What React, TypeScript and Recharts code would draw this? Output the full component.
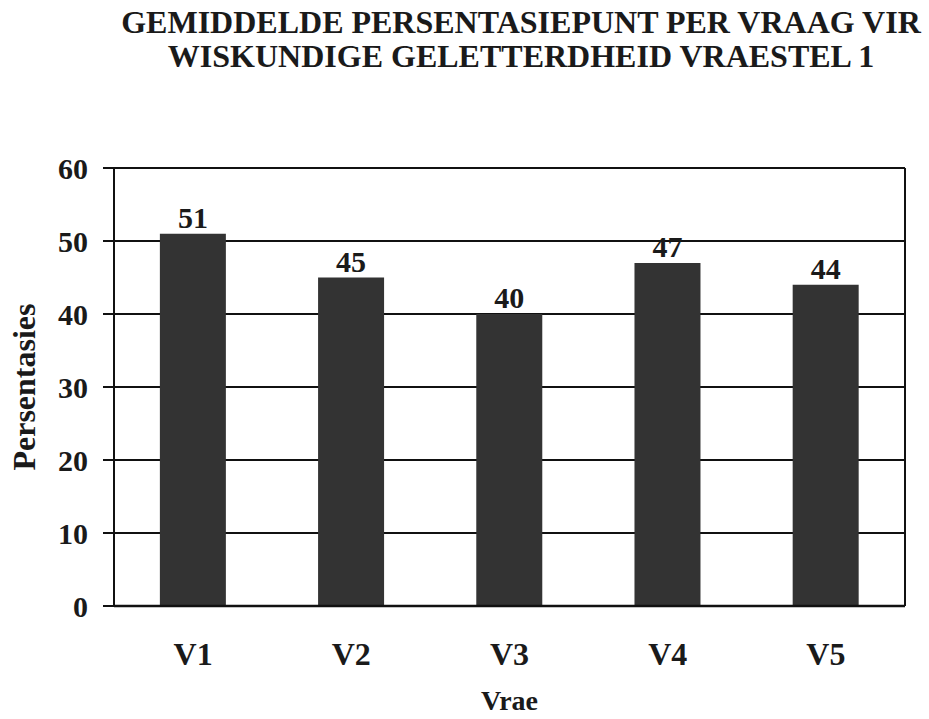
import React from "react";
import { BarChart, Bar, XAxis, YAxis, CartesianGrid, LabelList, Label } from "recharts";

const categories = ["V1", "V2", "V3", "V4", "V5"];
const values = [51, 45, 40, 47, 44];
const yTicks = [0, 10, 20, 30, 40, 50, 60];
const titleLines = ["GEMIDDELDE PERSENTASIEPUNT PER VRAAG VIR", "WISKUNDIGE GELETTERDHEID VRAESTEL 1"];
const yLabel = "Persentasies";
const xLabel = "Vrae";

const data = categories.map((c, i) => ({ name: c, value: values[i] }));

const FONT = "'Liberation Serif', 'Times New Roman', serif";

export default function App() {
  return (
    <div style={{ position: "absolute", left: 0, top: 0, width: 929, height: 719, background: "#fff" }}>
      <div
        style={{
          position: "absolute",
          left: 0,
          top: 5,
          width: 1042,
          textAlign: "center",
          fontFamily: FONT,
          fontWeight: "bold",
          fontSize: 32,
          lineHeight: "34px",
          color: "#1a1a1a",
          whiteSpace: "nowrap",
        }}
      >
        {titleLines.map((t) => (
          <div key={t}>{t}</div>
        ))}
      </div>
      <BarChart
        width={929}
        height={719}
        data={data}
        margin={{ top: 168, right: 23, bottom: 0, left: 0 }}
        barCategoryGap="29%"
        style={{ position: "absolute", left: 0, top: 0 }}
      >
        <CartesianGrid vertical={false} stroke="#111" strokeWidth={2} strokeOpacity={1} yAxisId="l" />
        <XAxis
          dataKey="name"
          axisLine={{ stroke: "#111", strokeWidth: 2.5 }}
          tickLine={false}
          tickSize={8}
          tickMargin={28}
          height={113}
          tick={{ fontFamily: FONT, fontWeight: "bold", fontSize: 32, fill: "#1a1a1a" }}
        >
          <Label
            value={xLabel}
            position="insideBottom"
            offset={9}
            style={{ fontFamily: FONT, fontWeight: "bold", fontSize: 28, fill: "#1a1a1a" }}
          />
        </XAxis>
        <YAxis
          yAxisId="l"
          domain={[0, 60]}
          ticks={yTicks}
          width={114}
          axisLine={{ stroke: "#111", strokeWidth: 2 }}
          tickLine={{ stroke: "#111", strokeWidth: 2 }}
          tickSize={11}
          tickMargin={15}
          tick={{ fontFamily: FONT, fontWeight: "bold", fontSize: 30, fill: "#1a1a1a" }}
        >
          <Label
            value={yLabel}
            angle={-90}
            position="insideLeft"
            offset={24}
            style={{ textAnchor: "middle", fontFamily: FONT, fontWeight: "bold", fontSize: 32, fill: "#1a1a1a" }}
          />
        </YAxis>
        <YAxis
          yAxisId="r"
          orientation="right"
          domain={[0, 60]}
          ticks={yTicks}
          width={1}
          tick={false}
          tickLine={false}
          axisLine={{ stroke: "#111", strokeWidth: 2 }}
        />
        <Bar dataKey="value" yAxisId="l" fill="#333333" isAnimationActive={false}>
          <LabelList
            dataKey="value"
            position="top"
            offset={6}
            style={{ fontFamily: FONT, fontWeight: "bold", fontSize: 30, fill: "#1a1a1a" }}
          />
        </Bar>
      </BarChart>
    </div>
  );
}
